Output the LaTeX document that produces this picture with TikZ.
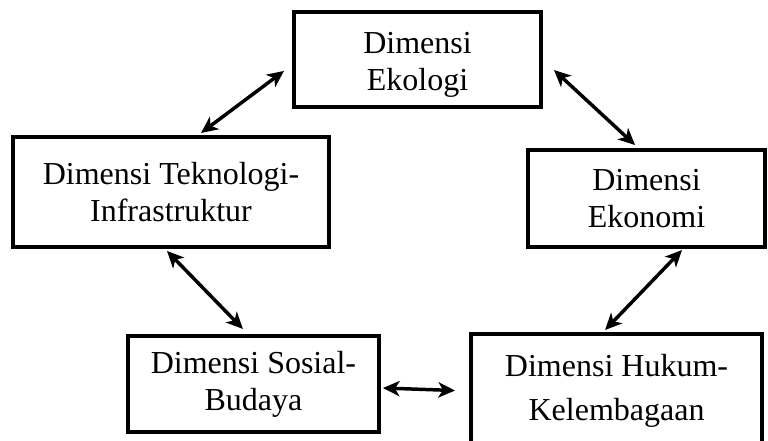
\documentclass[tikz,border=0pt]{standalone}
\usepackage{fontspec}
\setmainfont{Liberation Serif}
\usepackage{tikz}
\usetikzlibrary{arrows.meta,positioning}
\definecolor{dimblack}{HTML}{000000}

\tikzset{
  dimbox/.style={draw=dimblack, line width=3pt, fill=white, align=center,
    font=\fontsize{24}{27.6}\selectfont, inner sep=4pt},
  biarrow/.style={line width=2.6pt,
    {Stealth[length=12.5pt,width=11.5pt,inset=3.5pt]}-{Stealth[length=12.5pt,width=11.5pt,inset=3.5pt]}}
}

\begin{document}
\begin{tikzpicture}[x=1pt,y=1pt]
  \clip (0,0) rectangle (576,-330.75);
  \useasboundingbox (0,0) rectangle (576,-330.75);

  % boxes
  \node[dimbox, minimum width=185.25pt, minimum height=71.25pt, text height=51.5pt] (ekol) at (313.1,-44.6)
    {Dimensi\\Ekologi};
  \node[dimbox, minimum width=237pt, minimum height=82.5pt] (tekn) at (128.25,-144)
    {Dimensi Teknologi-\\Infrastruktur};
  \node[dimbox, minimum width=177.75pt, minimum height=72.75pt] (ekon) at (484.9,-148.9)
    {Dimensi\\Ekonomi};
  \node[dimbox, minimum width=188.25pt, minimum height=72pt] (sosb) at (190.1,-288)
    {Dimensi Sosial-\\[0.2pt]Budaya};
  \node[dimbox, minimum width=218.25pt, minimum height=84.75pt] (huku) at (462.4,-292.9)
    {Dimensi Hukum-\\[5.4pt]Kelembagaan};

  % links
  \draw[biarrow] ([shift={(-6pt,-8.6pt)}]ekol.west) -- ([shift={(22.5pt,1.5pt)}]tekn.north);
  \draw[biarrow] ([shift={(8.25pt,-7.9pt)}]ekol.east) -- ([shift={(-8.6pt,2.25pt)}]ekon.north);
  \draw[biarrow] ([shift={(-3pt,-1.5pt)}]tekn.south) -- ([shift={(-7.9pt,3.75pt)}]sosb.north);
  \draw[biarrow] ([shift={(26.6pt,-0.75pt)}]ekon.south) -- ([shift={(-8.6pt,1.5pt)}]huku.north);
  \draw[biarrow] ([shift={(1.5pt,-3pt)}]sosb.east) -- ([xshift=-10.5pt]huku.west);
\end{tikzpicture}
\end{document}
